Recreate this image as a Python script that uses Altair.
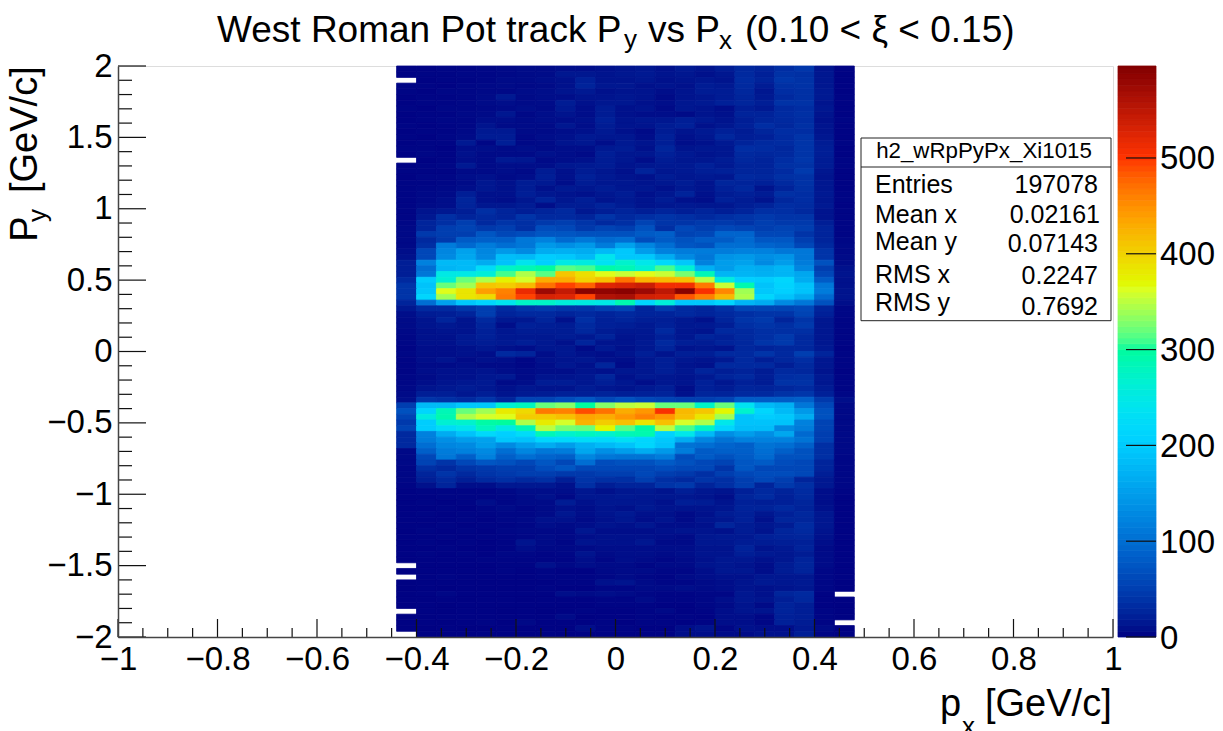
import altair as alt
import pandas as pd

FONT = "Liberation Sans"
X_EDGE_START = -0.44
BIN = 0.04
Y_TOP = 2.0

COUNTS = [
[2,2,3,3,4,5,6,6,8,8,10,12,14,10,16,12,18,28,24,34,42,12,2],
[2,3,3,4,4,5,6,7,14,14,12,14,16,12,14,10,14,30,22,38,36,14,2],
[0,2,3,3,4,6,6,8,10,22,12,12,14,10,12,14,12,32,24,42,38,14,2],
[3,3,2,4,5,6,5,6,10,24,14,14,10,12,10,18,16,30,18,36,38,14,2],
[3,2,4,4,5,5,7,8,12,16,10,12,12,8,12,18,18,28,14,34,36,16,2],
[2,3,3,4,6,16,6,8,8,12,12,14,12,6,12,14,18,26,16,30,36,16,3],
[2,3,3,4,6,8,6,7,18,10,14,14,10,8,14,16,22,26,20,38,38,12,2],
[3,2,4,4,5,6,8,6,16,8,18,10,12,6,14,12,8,20,16,30,34,14,2],
[2,3,3,5,6,14,5,8,12,8,18,10,8,8,6,12,10,24,24,32,36,12,2],
[2,3,4,4,8,8,6,8,8,10,22,12,14,14,20,16,12,20,26,30,34,10,3],
[3,2,3,4,12,6,6,6,14,8,18,12,12,18,22,10,14,22,34,28,36,12,2],
[2,3,3,5,16,16,6,6,8,10,16,10,6,18,12,16,22,18,26,34,34,12,2],
[3,2,4,6,18,18,5,8,10,16,14,14,8,22,10,14,28,20,22,32,40,14,2],
[2,3,3,16,4,20,5,6,12,14,8,16,12,20,8,10,16,24,30,32,40,18,3],
[3,3,2,8,8,6,8,6,8,8,16,18,10,26,12,14,14,34,32,28,40,20,2],
[2,4,3,10,6,6,6,10,8,6,20,14,14,22,16,12,14,30,28,30,40,20,2],
[0,2,3,8,6,16,14,6,8,10,18,14,8,18,14,14,18,28,24,34,42,18,3],
[2,3,4,16,6,8,8,8,14,16,18,12,14,16,16,22,16,24,24,36,38,18,3],
[3,3,3,6,6,8,6,18,10,18,14,10,24,14,16,20,22,26,26,32,46,14,2],
[2,4,4,8,10,6,8,20,10,22,16,12,10,18,14,16,14,30,28,36,38,12,2],
[3,3,4,6,14,10,18,16,8,18,14,14,12,14,18,12,26,24,22,30,38,14,2],
[3,4,5,8,14,10,18,10,16,14,18,14,14,10,16,12,22,28,12,24,36,14,2],
[3,5,6,20,10,10,20,14,12,10,14,18,10,14,24,10,18,22,18,36,34,16,3],
[3,5,8,26,10,8,14,24,14,20,12,16,12,18,10,8,22,18,12,28,34,14,3],
[3,6,8,24,14,14,18,8,18,18,24,18,12,14,16,14,14,20,24,34,32,16,2],
[3,12,15,20,35,25,20,25,30,15,20,25,20,25,20,25,20,25,35,35,30,12,3],
[3,15,35,25,30,25,40,30,30,25,40,30,35,40,35,30,35,40,45,40,40,12,3],
[4,25,35,50,30,40,35,45,50,40,30,35,55,40,40,45,45,40,50,45,45,20,3],
[5,25,50,55,45,50,35,65,60,45,55,50,70,35,60,50,60,55,50,55,50,25,3],
[5,45,50,50,75,60,65,75,75,70,70,70,80,85,55,60,90,90,60,60,40,25,3],
[5,30,45,80,85,85,110,120,95,110,95,100,65,80,70,80,80,95,75,75,50,25,4],
[5,35,115,95,115,100,110,145,135,145,115,155,125,100,75,70,100,100,90,85,60,30,5],
[8,60,125,155,125,145,130,165,170,165,180,195,150,120,115,115,115,120,120,110,110,40,5],
[10,60,130,160,130,185,180,200,195,180,240,195,195,165,130,110,140,145,135,140,110,40,6],
[20,120,180,180,165,190,240,205,250,255,235,270,245,220,195,120,150,155,130,150,115,70,6],
[20,100,175,180,225,275,285,300,315,310,295,285,265,310,265,170,150,170,165,175,125,50,10],
[20,110,250,250,260,310,345,315,410,390,365,355,365,355,325,285,175,175,170,175,160,60,12],
[30,200,265,320,345,375,360,430,430,400,415,470,425,420,415,350,255,205,200,215,165,80,10],
[40,190,320,340,410,405,420,470,495,480,525,530,540,510,510,465,355,290,190,210,190,110,10],
[40,195,365,385,440,460,515,575,545,590,585,590,575,550,590,505,455,340,195,205,190,115,12],
[40,215,340,385,395,465,495,530,525,495,560,565,535,530,485,460,420,345,215,190,165,95,12],
[25,100,155,195,215,240,275,275,260,255,250,290,215,260,195,195,215,175,165,130,110,70,8],
[15,30,30,40,50,30,40,45,40,40,50,55,25,45,30,25,35,55,55,55,60,25,4],
[8,18,20,25,50,25,30,30,25,30,25,30,25,25,30,25,30,35,40,40,55,22,4],
[6,12,25,12,30,15,15,25,10,35,22,25,20,20,15,10,25,40,45,25,40,14,3],
[6,12,15,12,25,8,22,20,18,30,22,20,16,22,15,16,20,35,40,35,45,14,3],
[5,10,12,12,22,14,18,18,18,28,18,15,15,30,14,12,30,30,35,35,35,14,3],
[4,10,10,16,22,15,15,15,18,15,24,12,14,22,14,25,22,30,35,45,30,14,3],
[4,10,10,16,18,16,20,15,10,25,12,12,16,30,20,18,24,28,40,45,30,14,3],
[3,8,8,10,14,10,8,14,14,6,16,10,15,25,12,14,12,28,24,28,28,16,2],
[4,8,8,10,8,30,25,8,14,10,8,12,20,12,20,20,30,30,40,30,50,25,3],
[3,8,12,6,10,8,4,10,12,14,10,8,14,20,14,12,16,30,20,28,34,14,3],
[3,6,6,8,6,6,4,8,14,10,26,6,14,20,12,10,30,30,30,20,30,14,3],
[3,8,10,10,12,8,6,8,8,12,10,14,14,20,14,25,20,24,18,30,28,12,2],
[4,6,10,10,14,16,6,12,12,14,26,10,16,14,12,16,25,30,20,34,36,16,3],
[4,8,12,14,16,6,8,18,18,14,20,14,8,14,12,22,14,22,18,38,38,14,3],
[5,12,15,18,15,10,14,12,12,18,14,12,16,20,8,22,18,26,24,28,32,18,3],
[6,20,20,14,20,12,16,18,22,20,24,20,22,24,10,26,24,30,30,38,42,22,4],
[8,40,35,30,40,25,55,55,65,75,60,70,60,55,50,50,55,80,80,80,85,45,8],
[50,180,180,195,195,265,280,320,330,300,330,350,355,320,320,275,320,235,180,170,110,60,5],
[70,215,285,320,340,380,395,465,460,490,470,430,445,505,420,410,370,270,215,180,145,70,5],
[55,255,290,345,360,365,405,405,415,435,430,445,460,445,415,385,340,190,200,195,165,70,5],
[45,200,265,270,295,300,345,380,360,425,405,415,385,415,360,345,245,190,190,190,120,55,5],
[55,200,225,240,280,250,285,350,325,320,370,315,295,350,310,275,215,185,185,130,115,55,5],
[30,120,165,190,220,205,225,285,270,280,270,285,290,210,245,180,135,150,135,160,95,50,5],
[30,115,135,150,155,195,190,215,220,225,220,230,215,195,165,125,105,120,120,120,105,50,5],
[30,100,125,130,150,130,150,165,150,170,180,190,215,190,105,100,90,85,105,100,85,35,5],
[5,85,115,120,130,100,125,110,115,160,135,150,165,145,115,80,85,85,100,85,70,35,5],
[5,60,110,85,120,85,100,90,85,125,110,105,105,115,65,80,70,80,95,70,70,35,4],
[5,55,40,60,75,70,60,75,60,100,65,70,70,80,70,60,55,75,80,65,60,25,4],
[4,35,30,40,45,50,50,65,75,60,60,60,60,65,60,60,40,75,60,60,60,25,4],
[4,25,40,30,40,45,50,50,45,45,50,50,60,50,45,35,50,60,65,65,60,20,4],
[4,20,30,20,30,35,30,35,20,40,35,35,50,35,30,40,35,50,60,50,25,15,4],
[3,10,25,8,8,15,15,15,10,35,20,25,25,40,45,25,35,50,25,45,35,15,4],
[2,3,3,3,3,5,8,8,8,14,10,14,16,12,20,14,12,22,30,24,32,8,3],
[2,2,3,3,3,4,6,10,5,14,14,16,14,14,14,12,8,26,32,22,30,8,2],
[2,3,2,3,8,4,6,6,18,10,14,14,14,10,20,18,12,22,20,22,26,8,2],
[2,2,3,2,4,6,4,6,10,8,12,10,16,12,12,12,14,24,24,30,24,10,2],
[2,3,2,3,3,4,4,6,14,8,12,16,10,10,6,10,18,22,14,22,28,14,2],
[2,2,2,3,2,4,5,10,10,6,10,14,8,12,6,12,14,22,10,26,26,14,2],
[2,2,3,2,3,3,4,8,6,8,12,10,14,8,8,10,26,18,14,18,32,14,2],
[1,3,2,3,2,4,5,5,5,14,8,8,8,10,12,12,10,18,12,26,30,12,2],
[2,2,3,2,3,3,4,6,5,8,10,10,10,8,6,14,16,16,22,24,26,10,2],
[2,3,2,3,2,3,12,6,4,12,10,10,14,6,6,14,14,18,18,20,22,8,2],
[2,2,3,2,2,3,8,5,5,6,8,8,8,8,8,12,12,24,12,16,24,6,2],
[2,3,2,3,2,4,4,3,4,12,6,8,8,6,8,12,12,20,16,14,18,6,2],
[1,2,2,2,3,3,3,3,3,8,4,8,6,4,6,10,14,14,10,14,24,6,2],
[0,2,2,2,2,3,3,10,5,8,6,6,4,6,6,12,14,12,8,18,26,6,2],
[1,2,2,2,2,3,2,3,2,2,5,6,6,4,4,8,14,14,8,18,24,4,2],
[0,2,3,2,2,2,2,3,3,3,4,6,4,3,6,8,10,10,14,14,14,4,2],
[1,2,2,2,2,2,2,2,3,3,10,12,6,4,4,6,8,12,16,14,16,4,1],
[1,2,1,2,2,2,2,3,2,2,4,4,6,6,8,6,8,12,10,12,14,4,1],
[1,2,4,2,2,2,2,2,8,6,8,6,4,3,3,4,4,14,10,26,30,2,0],
[1,1,2,1,2,2,1,2,2,2,3,3,6,3,3,4,8,14,12,20,28,2,1],
[1,2,1,2,2,2,2,2,2,2,3,3,3,2,2,4,6,12,6,24,20,2,1],
[0,2,1,2,2,1,2,1,2,3,2,2,3,5,2,3,8,12,12,24,20,3,1],
[1,1,2,2,2,2,2,2,6,1,2,2,3,2,3,2,8,8,4,22,20,3,1],
[1,2,1,2,3,1,5,2,2,2,3,1,3,3,2,3,8,8,4,22,18,3,0],
[1,1,2,1,1,2,2,2,2,8,3,3,2,2,8,12,4,10,8,8,16,6,1],
[0,1,1,1,2,1,1,2,1,2,2,2,2,2,8,8,6,6,10,10,20,3,1],
]
assert len(COUNTS) == 100 and all(len(r) == 23 for r in COUNTS)

X_TICK_LABELS = [-1, -0.8, -0.6, -0.4, -0.2, 0, 0.2, 0.4, 0.6, 0.8, 1]
Y_TICK_LABELS = [-2, -1.5, -1, -0.5, 0, 0.5, 1, 1.5, 2]
X_MINOR = [-0.95,-0.9,-0.85,-0.75,-0.7,-0.65,-0.55,-0.5,-0.45,-0.35,-0.3,-0.25,-0.15,-0.1,-0.05,
           0.05,0.1,0.15,0.25,0.3,0.35,0.45,0.5,0.55,0.65,0.7,0.75,0.85,0.9,0.95]
Y_MINOR = [-1.9,-1.8,-1.7,-1.6,-1.4,-1.3,-1.2,-1.1,-0.9,-0.8,-0.7,-0.6,-0.4,-0.3,-0.2,-0.1,
           0.1,0.2,0.3,0.4,0.6,0.7,0.8,0.9,1.1,1.2,1.3,1.4,1.6,1.7,1.8,1.9]
BAR_TICKS = [0, 100, 200, 300, 400, 500]
BAR_MAX = 596
BAR_STEP = 6

STATS_NAMES = ["Entries", "Mean x", "Mean y", "RMS x", "RMS y"]
STATS_VALUES = ["197078", "0.02161", "0.07143", "0.2247", "0.7692"]

cells = []
for k, row in enumerate(COUNTS):
    for i, v in enumerate(row):
        if v > 0:
            cells.append({
                "x0": round(X_EDGE_START + i * BIN, 2), "x1": round(X_EDGE_START + (i + 1) * BIN, 2),
                "y1": round(Y_TOP - k * BIN, 2), "y0": round(Y_TOP - (k + 1) * BIN, 2), "v": v,
            })
cells = pd.DataFrame(cells)

def bar_y(v):
    return -2 + 4 * v / BAR_MAX

levels = pd.DataFrame({"lo": list(range(0, BAR_MAX, BAR_STEP))})
levels["hi"] = (levels["lo"] + BAR_STEP).clip(upper=BAR_MAX)
levels["mid"] = (levels["lo"] + levels["hi"]) / 2
levels["ylo"] = bar_y(levels["lo"])
levels["yhi"] = bar_y(levels["hi"])
bar_marks = pd.DataFrame({"v": BAR_TICKS})
bar_marks["y"] = bar_y(bar_marks["v"])
bar_marks["t"] = bar_marks["v"].astype(str)

xs = alt.Scale(domain=[-1, 1], nice=False, zero=False)
ys = alt.Scale(domain=[-2, 2], nice=False, zero=False)
cs = alt.Scale(domain=[0, 202.6, 363.6, 500.6, BAR_MAX],
               range=["#000082", "#00CFFF", "#DEFF1F", "#FF3300", "#820000"], clamp=True)
LEFT, TOP = 118, 66
W, H = 995, 571

def px(v): return alt.value(v - LEFT)
def py(v): return alt.value(v - TOP)

def label(text, x, y, size, align="left", angle=None, color="black"):
    kw = dict(font=FONT, fontSize=size, align=align, baseline="alphabetic", color=color)
    if angle is not None:
        kw["angle"] = angle
    return alt.Chart(pd.DataFrame({"t": [text]})).mark_text(**kw).encode(text="t:N", x=px(x), y=py(y))

heat = alt.Chart(cells).mark_rect(strokeWidth=0.8).encode(
    x=alt.X("x0:Q", scale=xs, title=None, axis=alt.Axis(
        values=X_TICK_LABELS, format="~g", ticks=False, grid=False, domain=True, domainColor="#444",
        domainWidth=1.5, labelFont=FONT, labelFontSize=33, labelColor="black", labelPadding=6,
        labelFlush=False, labelOverlap=False, labelBound=False, zindex=1)),
    x2="x1:Q",
    y=alt.Y("y0:Q", scale=ys, title=None, axis=alt.Axis(
        values=Y_TICK_LABELS, format="~g", ticks=False, grid=False, domain=True, domainColor="#444",
        domainWidth=1.5, labelFont=FONT, labelFontSize=33, labelColor="black", labelPadding=6,
        labelFlush=False, labelOverlap=False, labelBound=False, zindex=1)),
    y2="y1:Q",
    color=alt.Color("v:Q", scale=cs, legend=None),
    stroke=alt.Stroke("v:Q", scale=cs, legend=None),
)

def xticks(vals, length):
    return alt.Chart(pd.DataFrame({"v": vals})).mark_rule(color="#111", strokeWidth=1.2).encode(
        x=alt.X("v:Q", scale=xs), y=alt.value(H - length), y2=alt.value(H))

def yticks(vals, length):
    return alt.Chart(pd.DataFrame({"v": vals})).mark_rule(color="#111", strokeWidth=1.2).encode(
        y=alt.Y("v:Q", scale=ys), x=alt.value(0), x2=alt.value(length))

stats_box = alt.Chart(pd.DataFrame({"a": [1]})).mark_rect(fill="white", stroke="#222", strokeWidth=1).encode(
    x=px(861), x2=px(1111), y=py(138), y2=py(320.7))
stats_sep = alt.Chart(pd.DataFrame({"a": [1]})).mark_rule(color="#222", strokeWidth=1).encode(
    x=px(861), x2=px(1111), y=py(167))

name_base = [192.7, 223, 250, 283, 310.7]
value_base = [192.7, 222.7, 251.7, 284, 315]
value_right = [1098, 1100, 1098, 1098, 1098]
stats_text = [label("h2_wRpPyPx_Xi1015", 984, 158, 22.3, align="center")]
for n, b in zip(STATS_NAMES, name_base):
    stats_text.append(label(n, 875, b, 25))
for v, b, r in zip(STATS_VALUES, value_base, value_right):
    stats_text.append(label(v, r, b, 25, align="right"))

texts = [
    label("West Roman Pot track P", 217, 42, 37),
    label("y", 624, 48, 26),
    label("vs P", 648, 42, 37),
    label("x", 719, 49, 26),
    label("(0.10 < \u03be < 0.15)", 745, 42, 37),
    label("P", 37, 241.7, 38, angle=270),
    label("y", 46, 222, 26, angle=270),
    label("[GeV/c]", 37, 193, 38, angle=270),
    label("p", 940, 716, 38),
    label("x", 962, 735, 26),
    label("[GeV/c]", 985, 716, 38),
]

bar = alt.Chart(levels).mark_rect(strokeWidth=0.8).encode(
    x=px(1118), x2=px(1156),
    y=alt.Y("ylo:Q", scale=ys),
    y2="yhi:Q",
    color=alt.Color("mid:Q", scale=cs, legend=None),
    stroke=alt.Stroke("mid:Q", scale=cs, legend=None),
)
bar_ticks = alt.Chart(bar_marks).mark_rule(color="#111", strokeWidth=1.2).encode(
    y=alt.Y("y:Q", scale=ys), x=px(1126), x2=px(1156))
bar_labels = alt.Chart(bar_marks).mark_text(font=FONT, fontSize=33, align="left", baseline="middle", color="black", dy=1.5).encode(
    y=alt.Y("y:Q", scale=ys), x=px(1160), text="t:N")

chart = alt.layer(heat, xticks(X_TICK_LABELS, 18), xticks(X_MINOR, 9), yticks(Y_TICK_LABELS, 28), yticks(Y_MINOR, 14),
                  stats_box, stats_sep, *stats_text, *texts, bar, bar_ticks, bar_labels).properties(
    width=W, height=H,
    autosize=alt.AutoSizeParams(type="none"),
    padding={"left": 110, "top": 58, "right": 102, "bottom": 94},
).configure_view(stroke="#555", strokeWidth=1).configure(background="white")

chart.save("out.html", embed_options={"renderer": "svg", "actions": False})
